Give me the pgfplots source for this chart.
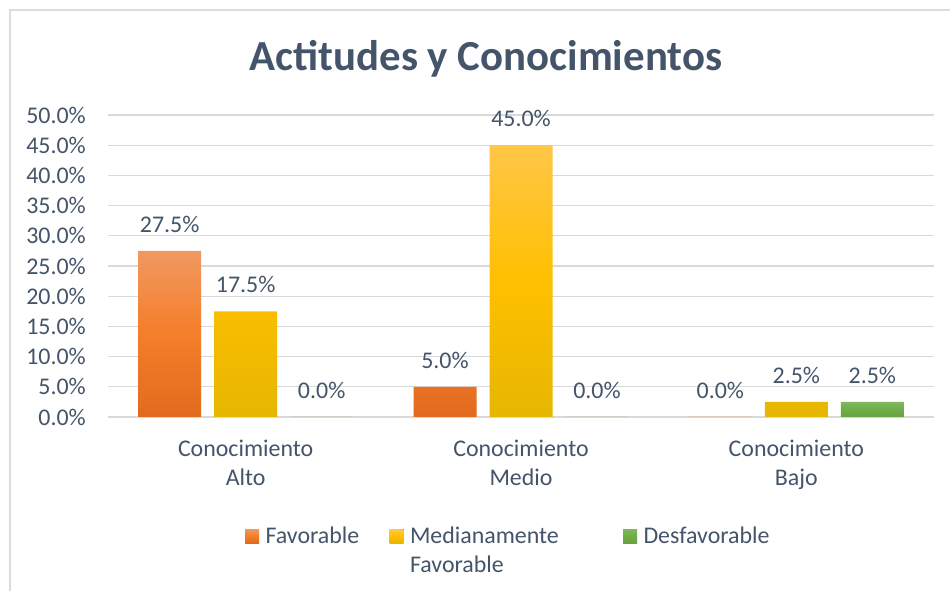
\documentclass[border=0pt]{standalone}
\usepackage{pgfplots}
\pgfplotsset{compat=1.18}
\usepackage{fontspec}
\setmainfont{Carlito}
\definecolor{txt}{RGB}{68,84,106}
\definecolor{gridc}{RGB}{217,217,217}
\definecolor{framec}{RGB}{217,220,226}
\definecolor{orTop}{RGB}{241,152,98}
\definecolor{orMid}{RGB}{244,126,42}
\definecolor{orBot}{RGB}{226,106,30}
\definecolor{goTop}{RGB}{255,198,72}
\definecolor{goMid}{RGB}{255,192,0}
\definecolor{goBot}{RGB}{230,182,0}
\definecolor{grTop}{RGB}{126,183,92}
\definecolor{grMid}{RGB}{112,173,71}
\definecolor{grBot}{RGB}{102,162,62}
\begin{document}
\begin{tikzpicture}[x=1bp,y=1bp]
\useasboundingbox (0,0) rectangle (950,591);
\fill[white] (0,0) rectangle (950,591);
\draw[framec, line width=1.5bp] (10,0) -- (10,581) -- (950,581);
\node[anchor=base, text=txt, font=\fontsize{43}{52}\selectfont\bfseries, inner sep=0pt] at (486,520) {Actitudes y Conocimientos};
\begin{axis}[
  at={(108bp,174bp)}, anchor=south west,
  width=826bp, height=302bp, scale only axis,
  xmin=-0.5, xmax=2.5, ymin=0, ymax=50,
  ybar, bar width=63bp,
  ytick={0,5,...,50},
  xtick={0,1,2},
  xticklabels={{Conocimiento\\Alto},{Conocimiento\\Medio},{Conocimiento\\Bajo}},
  xticklabel style={align=center, inner sep=0pt, yshift=-23bp, text=txt, font=\fontsize{24}{29}\selectfont},
  yticklabel={\pgfmathprintnumber[fixed,fixed zerofill,precision=1,assume math mode=true]{\tick}\%},
  yticklabel style={anchor=east, inner sep=0pt, xshift=-22bp, text=txt, font=\fontsize{24}{29}\selectfont},
  axis line style={draw=none},
  major tick length=0pt,
  tick style={draw=none},
  ymajorgrids,
  grid style={gridc, line width=1.3bp},
  nodes near coords={\pgfmathprintnumber[fixed,fixed zerofill,precision=1,assume math mode=true]{\pgfplotspointmeta}\%},
  every node near coord/.append style={anchor=south, inner sep=0pt, yshift=18bp, text=txt, font=\fontsize{24}{29}\selectfont},
  legend columns=3,
  legend cell align=left,
  legend style={draw=none, fill=none, inner sep=0pt, outer sep=0pt,
    at={(axis description cs:0.1659,-0.348)}, anchor=north west,
    cells={anchor=base west},
    /tikz/every odd column/.style={column sep=6.5bp},
    /tikz/every even column/.style={column sep=0bp},
    nodes={inner sep=0pt, text=txt, font=\fontsize{24}{30}\selectfont}},
  legend image code/.code={\fill[#1] (0bp,0bp) rectangle (14bp,14bp);},
]
\addplot[draw=none, top color=orTop, bottom color=orBot, middle color=orMid, bar shift=-76bp]
  coordinates {(0,27.5) (1,5.0) (2,0.0)};
\addlegendentry{\makebox[124bp][l]{Favorable}}
\addplot[draw=none, top color=goTop, bottom color=goBot, middle color=goMid, bar shift=0bp]
  coordinates {(0,17.5) (1,45.0) (2,2.5)};
\addlegendentry{\makebox[213bp][l]{\begin{tabular}[t]{@{}l@{}}Medianamente\\Favorable\end{tabular}}}
\addplot[draw=none, top color=grTop, bottom color=grBot, middle color=grMid, bar shift=76bp]
  coordinates {(0,0.0) (1,0.0) (2,2.5)};
\addlegendentry{Desfavorable}
\end{axis}
\end{tikzpicture}
\end{document}
